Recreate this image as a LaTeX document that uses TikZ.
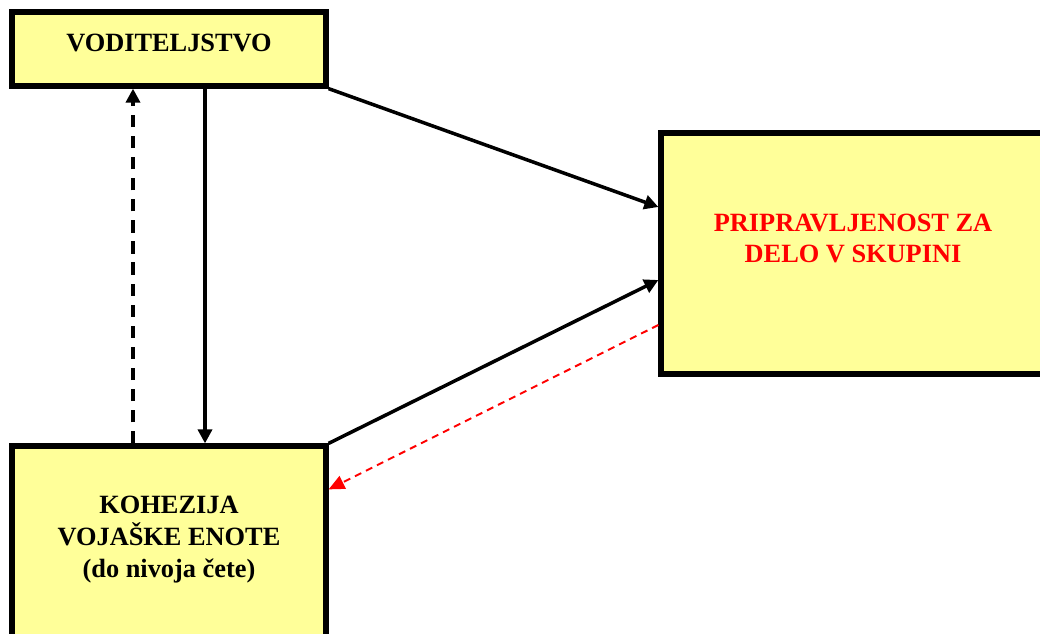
\documentclass[tikz,border=0pt]{standalone}
\usepackage{fontspec}
\setmainfont{Liberation Serif}
\usetikzlibrary{arrows.meta,positioning,calc}
\definecolor{boxyellow}{RGB}{255,255,153}
\definecolor{myred}{RGB}{255,0,0}
\tikzset{
    box/.style      = {draw=black, line width=3pt, fill=boxyellow,
            inner sep=0pt},
    txt/.style      = {font=\fontsize{15}{18}\selectfont\bfseries,
            align=center, inner sep=0pt},
    line/.style     = {-{Triangle[length=8pt,width=8pt]}, line width=2pt},
    dashline/.style = {line, dash pattern=on 7pt off 5pt},
    redline/.style  = {-{Triangle[length=9pt,width=8pt]}, draw=myred,
            line width=1.1pt, dash pattern=on 4pt off 3pt},
}

\begin{document}
\begin{tikzpicture}[x=0.02cm,y=-0.02cm]
    \useasboundingbox (0,0) rectangle (1040,634);
    \clip (0,0) rectangle (1040,634);
    % Nodes
    \node[box, minimum width=6.28cm, minimum height=1.48cm] (vodit) at (169,49) {};
    \node[box, minimum width=7.7cm, minimum height=4.82cm] (pripr) at (853.5,253.5) {};
    \node[box, minimum width=6.28cm, minimum height=6cm] (kohez) at (169,596) {};
    \node[txt, anchor=base] (voditT) at (169,52) {VODITELJSTVO};
    \node[txt, text=myred, anchor=base] (priprT) at (853,263) {PRIPRAVLJENOST ZA\\DELO V SKUPINI};
    \node[txt, anchor=base] (kohezT) at (169,577) {KOHEZIJA\\VOJAŠKE ENOTE\\(do nivoja čete)};
    % Arrows
    \coordinate (upx) at (133,0);
    \coordinate (downx) at (205,0);
    \draw[dashline] (kohez.north -| upx) -- (vodit.south -| upx);
    \draw[line] (vodit.south -| downx) -- (kohez.north -| downx);
    \draw[line] (vodit.south east) -- ([yshift=0.93cm]pripr.west);
    \draw[line] (kohez.north east) -- ([yshift=-0.53cm]pripr.west);
    \draw[redline] ([yshift=-1.43cm]pripr.west) -- ([yshift=-0.92cm]kohez.north east);
\end{tikzpicture}
\end{document}
